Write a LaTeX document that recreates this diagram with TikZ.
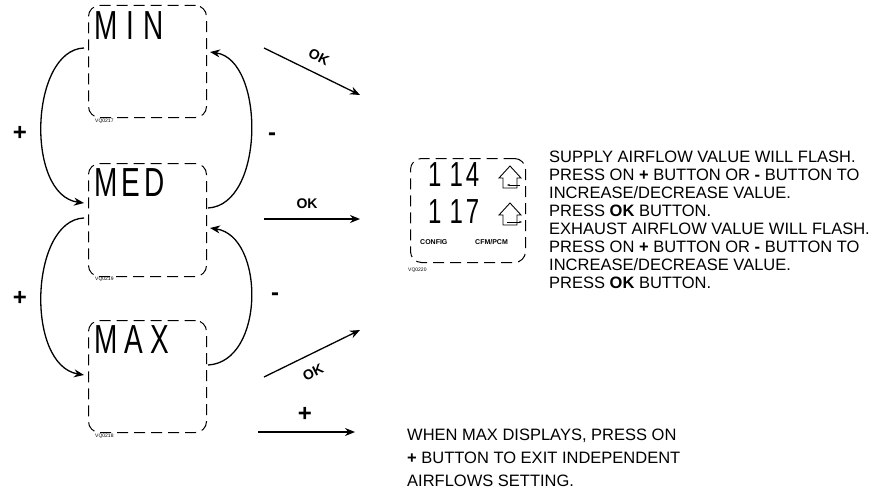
\documentclass[tikz,border=0pt]{standalone}
\usepackage{fontspec}
\setmainfont{Liberation Sans}
\usetikzlibrary{arrows.meta}
\begin{document}
\begin{tikzpicture}[x=1pt,y=-1pt,
  lcd/.style={draw,dash pattern=on 11pt off 6pt,rounded corners=11pt,line width=1pt,anchor=north west,inner sep=0pt},
  vq/.style={font=\fontsize{5}{6}\selectfont,anchor=north west,inner sep=0pt},
  seg/.style={font=\fontsize{28}{28}\selectfont,anchor=north west,inner sep=0pt},
  arr/.style={line width=1.3pt,-{Stealth[length=10pt,width=8pt]}},
  sym/.style={font=\fontsize{24}{24}\selectfont\bfseries},
  oklab/.style={font=\fontsize{14}{14}\selectfont\bfseries,inner sep=0pt},
  body/.style={font=\fontsize{16.5}{18}\selectfont,align=left,inner sep=0pt}]
\useasboundingbox (0,0) rectangle (890,500);
% boxes
\node[lcd,minimum width=118pt,minimum height=112pt] (min) at (88,5) {};
\node[lcd,minimum width=118pt,minimum height=113pt] (med) at (88,163) {};
\node[lcd,minimum width=118pt,minimum height=112pt] (max) at (88,320) {};
\node[lcd,minimum width=115pt,minimum height=104pt] (cfg) at (410,158) {};
\node[vq] (v1) at (95,119) {VQ0217};
\node[vq] (v2) at (95,277) {VQ0219};
\node[vq] (v3) at (95,434) {VQ0218};
\node[vq] (v4) at (408,268) {VQ0220};
% segment texts
\node[seg] (tmin) at (94,11) {\scalebox{1}[1.45]{M\hspace{9pt}I\hspace{9pt}N}};
\node[seg] (tmed) at (94,168) {\scalebox{1}[1.45]{M\hspace{4pt}E\hspace{4pt}D}};
\node[seg] (tmax) at (94,325) {\scalebox{1}[1.45]{M\hspace{7pt}A\hspace{7pt}X}};
\node[seg,font=\fontsize{24}{24}\selectfont] (n1) at (428,162) {\scalebox{1}[1.45]{1\hspace{8pt}1\hspace{3pt}4}};
\node[seg,font=\fontsize{24}{24}\selectfont] (n2) at (428,199) {\scalebox{1}[1.45]{1\hspace{8pt}1\hspace{3pt}7}};
\node[font=\fontsize{7}{7}\selectfont\bfseries,anchor=west,inner sep=0pt] (c1) at (420,242) {CONFIG};
\node[font=\fontsize{7}{7}\selectfont\bfseries,anchor=west,inner sep=0pt] (c2) at (475,242) {CFM/PCM};
% house icons
\draw[line width=0.9pt] (499,178) -- (510,166) -- (521,178) -- (517,178) -- (517,188) -- (503,188) -- (503,178) -- cycle;
\draw[line width=0.9pt,-{Stealth[length=3pt]}] (520,185) -- (507,185);
\draw[line width=0.9pt] (499,215) -- (510,203) -- (521,215) -- (517,215) -- (517,225) -- (503,225) -- (503,215) -- cycle;
\draw[line width=0.9pt,-{Stealth[length=3pt]}] (507,222) -- (522,222);
% coordinates for arcs
\coordinate (a1) at (84,48); \coordinate (b1) at (84,203);
\coordinate (a2) at (84,218); \coordinate (b2) at (84,375);
\coordinate (c3) at (208,208); \coordinate (d3) at (210,52);
\coordinate (c4) at (208,365); \coordinate (d4) at (210,228);
\draw[arr] (a1) .. controls (30,50) and (25,195) .. (b1);
\draw[arr] (a2) .. controls (30,220) and (25,365) .. (b2);
\draw[arr] (c3) .. controls (265,205) and (265,60) .. (d3);
\draw[arr] (c4) .. controls (265,362) and (265,236) .. (d4);
\node[sym] (p1) at (20,133) {+};
\node[sym] (p2) at (20,298) {+};
\node[sym] (m1) at (272,137) {-};
\node[sym] (m2) at (275,297) {-};
% OK arrows
\coordinate (o1s) at (264,48); \coordinate (o1e) at (360,95);
\coordinate (o2s) at (264,219); \coordinate (o2e) at (360,219);
\coordinate (o3s) at (264,377); \coordinate (o3e) at (360,330);
\coordinate (o4s) at (258,432); \coordinate (o4e) at (355,432);
\draw[arr] (o1s) -- (o1e);
\draw[arr] (o2s) -- (o2e);
\draw[arr] (o3s) -- (o3e);
\draw[arr] (o4s) -- (o4e);
\node[oklab,rotate=-27] (k1) at (319,57) {OK};
\node[oklab] (k2) at (307,204) {OK};
\node[oklab,rotate=27] (k3) at (313,372) {OK};
\node[sym] (p3) at (305,414) {+};
% texts
\node[body,anchor=north west] (t1) at (549,151) {SUPPLY AIRFLOW VALUE WILL FLASH.\\
PRESS ON \textbf{+} BUTTON OR \textbf{-} BUTTON TO\\
INCREASE/DECREASE VALUE.\\
PRESS \textbf{OK} BUTTON.\\
EXHAUST AIRFLOW VALUE WILL FLASH.\\
PRESS ON \textbf{+} BUTTON OR \textbf{-} BUTTON TO\\
INCREASE/DECREASE VALUE.\\
PRESS \textbf{OK} BUTTON.};
\node[body,anchor=north west,font=\fontsize{16.5}{23}\selectfont] (t2) at (407,429) {WHEN MAX DISPLAYS, PRESS ON\\
\textbf{+} BUTTON TO EXIT INDEPENDENT\\
AIRFLOWS SETTING.};
\end{tikzpicture}
\end{document}
